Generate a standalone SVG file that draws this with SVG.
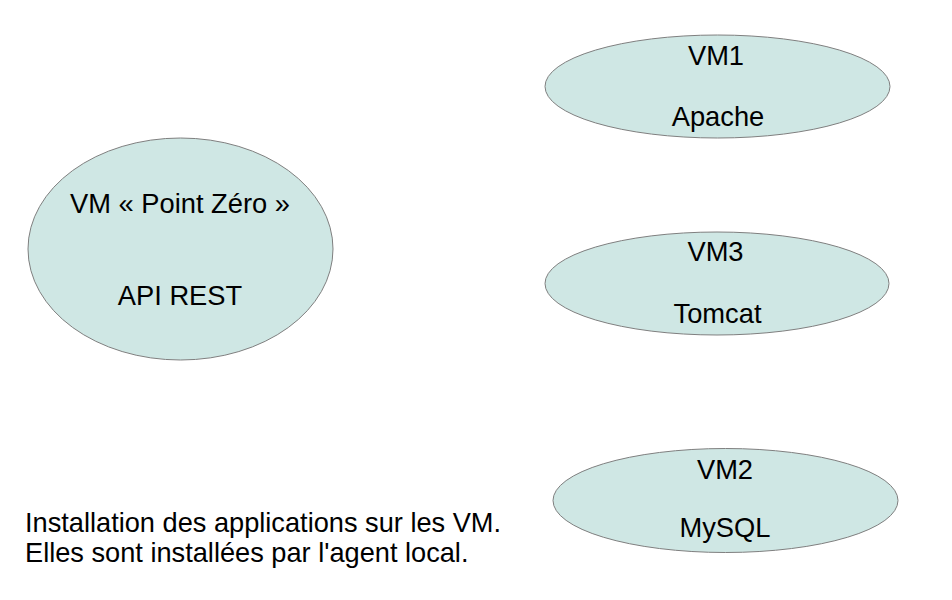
<svg xmlns="http://www.w3.org/2000/svg" width="952" height="600" viewBox="0 0 952 600">
<style>
.n{fill:#cfe7e4;stroke:#7f7f7f;stroke-width:1}
.t{font-family:"Liberation Sans",Arial,sans-serif;font-size:27.3px;fill:#000;text-anchor:middle}
.c{font-family:"Liberation Sans",Arial,sans-serif;font-size:27.2px;fill:#000}
</style>
<rect width="952" height="600" fill="#fff"/>
<g id="connectors"></g>
<g id="vm0">
<ellipse class="n" cx="180.5" cy="249" rx="152.5" ry="111"/>
<text class="t" x="180" y="213">VM « Point Zéro »</text>
<text class="t" x="180" y="305">API REST</text>
</g>
<g id="vm1">
<ellipse class="n" cx="717.5" cy="86.5" rx="172.5" ry="51.5"/>
<text class="t" x="716" y="65">VM1</text>
<text class="t" x="718" y="126">Apache</text>
</g>
<g id="vm3">
<ellipse class="n" cx="717" cy="283.5" rx="172" ry="51.5"/>
<text class="t" x="715.5" y="261">VM3</text>
<text class="t" x="717.5" y="323">Tomcat</text>
</g>
<g id="vm2">
<ellipse class="n" cx="725.5" cy="500.5" rx="172.5" ry="52"/>
<text class="t" x="725" y="479">VM2</text>
<text class="t" x="725" y="537">MySQL</text>
</g>
<g id="caption">
<text class="c" x="25" y="532">Installation des applications sur les VM.</text>
<text class="c" x="25" y="562">Elles sont installées par l'agent local.</text>
</g>
</svg>
